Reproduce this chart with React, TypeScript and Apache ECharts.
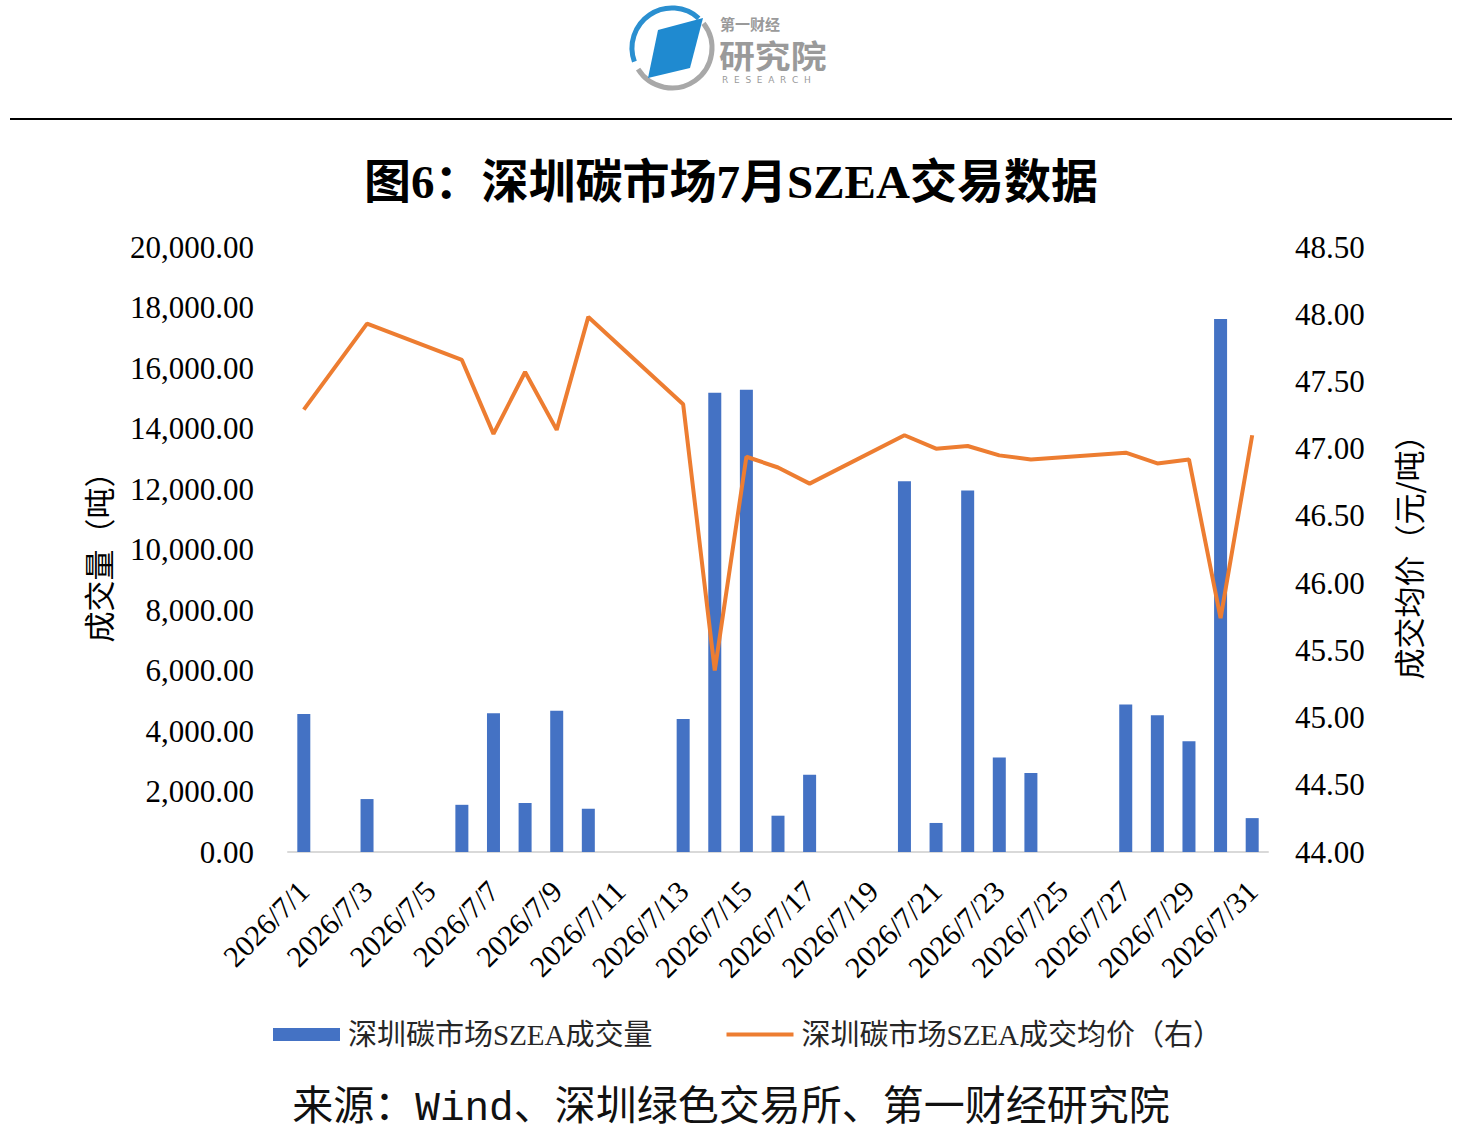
import React, { useEffect, useRef } from "react";
import * as echarts from "echarts";

const days: string[] = Array.from({ length: 31 }, (_, i) => `2026/7/${i + 1}`);

// 成交量（吨）, null = no trade that day
const volume: (number | null)[] = [
  4560, null, 1750, null, null, 1560, 4590, 1620, 4670, 1430,
  null, null, 4400, 15180, 15280, 1200, 2550, null, null, 12260,
  960, 11950, 3120, 2610, null, null, 4880, 4520, 3660, 17620,
  1120,
];

// 成交均价（元/吨）
const price: (number | null)[] = [
  47.29, null, 47.93, null, null, 47.66, 47.11, 47.57, 47.14, 47.98,
  null, null, 47.33, 45.35, 46.94, 46.86, 46.74, null, null, 47.10,
  47.00, 47.02, 46.95, 46.92, null, null, 46.97, 46.89, 46.92, 45.74,
  47.10,
];

const leftTicks = { min: 0, max: 20000, interval: 2000 };
const rightTicks = { min: 44, max: 48.5, interval: 0.5 };

const TITLE = "图6：深圳碳市场7月SZEA交易数据";
const SOURCE = "来源：Wind、深圳绿色交易所、第一财经研究院";
const NAME_BAR = "深圳碳市场SZEA成交量";
const NAME_LINE = "深圳碳市场SZEA成交均价（右）";

const SERIF = "'Liberation Serif', 'Times New Roman', 'Noto Sans CJK SC', serif";
const CJK = "'Liberation Serif', 'Noto Sans CJK SC', sans-serif";
const CJK_ONLY = "'Noto Sans CJK SC', sans-serif";

export default function App() {
  const ref = useRef<HTMLDivElement>(null);
  useEffect(() => {
    document.body.style.margin = "0";
    if (!ref.current) return;
    const chart = echarts.init(ref.current, undefined, { renderer: "svg" });
    const cx = 672;
    const cy = 48;
    const r = 40;
    chart.setOption({
      animation: false,
      backgroundColor: "#ffffff",
      title: {
        text: TITLE,
        left: "center",
        top: 153,
        textStyle: { fontSize: 47, fontWeight: "bold", color: "#000", fontFamily: CJK },
      },
      graphic: [
        { type: "line", shape: { x1: 10, y1: 119, x2: 1452, y2: 119 }, style: { stroke: "#000", lineWidth: 2 } },
        {
          type: "arc",
          shape: { cx, cy, r, startAngle: (160 * Math.PI) / 180, endAngle: (312 * Math.PI) / 180, clockwise: true },
          style: { stroke: "#2a8fd0", lineWidth: 5, fill: "none" },
        },
        {
          type: "arc",
          shape: { cx, cy, r, startAngle: (322 * Math.PI) / 180, endAngle: (148 * Math.PI) / 180 + 2 * Math.PI, clockwise: true },
          style: { stroke: "#a8a8a8", lineWidth: 5, fill: "none" },
        },
        {
          type: "polygon",
          shape: { points: [[658, 30], [703, 18], [690, 68], [648, 78]] },
          style: { fill: "#1f8ad0" },
        },
        {
          type: "text",
          style: { text: "第一财经", x: 720, y: 23, fontSize: 15, fontWeight: "bold", fill: "#9a9a9a", fontFamily: CJK_ONLY, verticalAlign: "middle" },
        },
        {
          type: "text",
          x: 719,
          scaleX: 1.12,
          style: { text: "研究院", x: 0, y: 54, fontSize: 32, fontWeight: "bold", fill: "#9a9a9a", fontFamily: CJK_ONLY, verticalAlign: "middle" },
        },
        {
          type: "text",
          style: { text: "R  E  S  E  A  R  C  H", x: 722, y: 80, fontSize: 9, fill: "#9a9a9a", fontFamily: "'DejaVu Sans'", verticalAlign: "middle" },
        },
        {
          type: "text",
          style: {
            text: SOURCE,
            x: 731,
            y: 1109,
            align: "center",
            verticalAlign: "middle",
            fontSize: 41,
            fill: "#111",
            fontFamily: "'Liberation Mono', 'Noto Sans CJK SC', monospace",
          },
        },
      ],
      legend: {
        left: 273,
        top: 1020,
        padding: 0,
        itemWidth: 67,
        itemHeight: 13,
        itemGap: 74,
        textStyle: { fontSize: 29, color: "#262626", fontFamily: CJK, padding: [0, 0, 0, 3] },
        data: [
          { name: NAME_BAR, icon: "rect" },
          { name: NAME_LINE, icon: "path://M0,0L70,0L70,4L0,4Z" },
        ],
      },
      grid: { left: 288, right: 194, top: 247, bottom: 284 },
      xAxis: {
        type: "category",
        data: days,
        boundaryGap: true,
        axisLine: { show: true, lineStyle: { color: "#d9d9d9", width: 2 } },
        axisTick: { show: false },
        axisLabel: {
          interval: 1,
          rotate: 45,
          margin: 34,
          fontSize: 30,
          color: "#000",
          fontFamily: SERIF,
        },
      },
      yAxis: [
        {
          type: "value",
          min: leftTicks.min,
          max: leftTicks.max,
          interval: leftTicks.interval,
          splitLine: { show: false },
          axisLine: { show: false },
          axisTick: { show: false },
          axisLabel: {
            margin: 34,
            fontSize: 31,
            color: "#000",
            fontFamily: SERIF,
            formatter: (v: number) =>
              v.toLocaleString("en-US", { minimumFractionDigits: 2, maximumFractionDigits: 2 }),
          },
          name: "成交量（吨）",
          nameLocation: "middle",
          nameRotate: 90,
          nameGap: 175,
          nameTextStyle: { fontSize: 31, color: "#000", fontFamily: CJK_ONLY },
        },
        {
          type: "value",
          position: "right",
          min: rightTicks.min,
          max: rightTicks.max,
          interval: rightTicks.interval,
          splitLine: { show: false },
          axisLine: { show: false },
          axisTick: { show: false },
          axisLabel: {
            margin: 27,
            fontSize: 31,
            color: "#000",
            fontFamily: SERIF,
            formatter: (v: number) => v.toFixed(2),
          },
          name: "成交均价（元/吨）",
          nameLocation: "middle",
          nameRotate: 90,
          nameGap: 124,
          nameTextStyle: { fontSize: 31, color: "#000", fontFamily: CJK_ONLY },
        },
      ],
      series: [
        {
          name: NAME_BAR,
          type: "bar",
          data: volume,
          barWidth: 13,
          itemStyle: { color: "#4472C4" },
          yAxisIndex: 0,
        },
        {
          name: NAME_LINE,
          type: "line",
          data: price,
          yAxisIndex: 1,
          connectNulls: true,
          symbol: "none",
          showSymbol: false,
          lineStyle: { color: "#ED7D31", width: 4 },
          itemStyle: { color: "#ED7D31" },
        },
      ],
    });
    return () => chart.dispose();
  }, []);
  return <div ref={ref} style={{ width: 1462, height: 1136 }} />;
}
